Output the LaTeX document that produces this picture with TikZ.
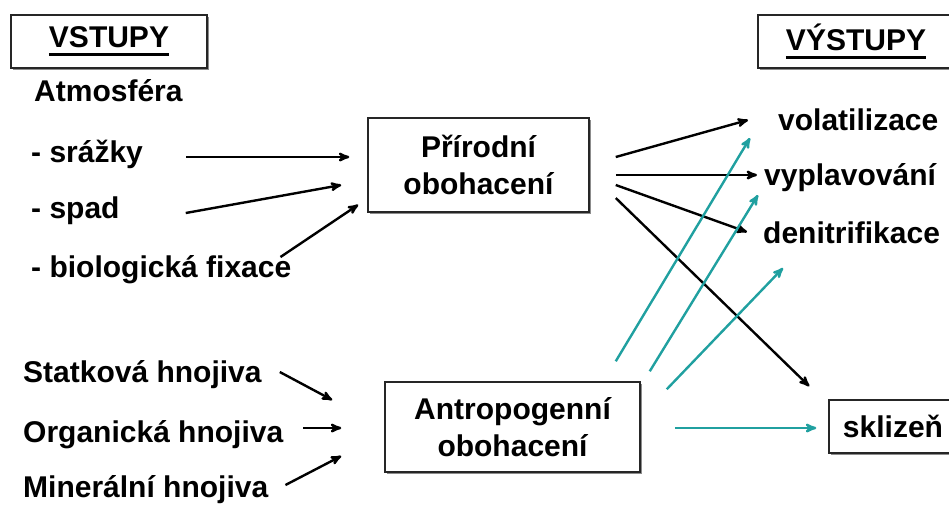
\documentclass[tikz,border=0pt]{standalone}
\usepackage{fontspec}
\setmainfont{Liberation Sans}
\usetikzlibrary{arrows,shadows}
\definecolor{tealarrow}{RGB}{32,160,160}
\newsavebox\headbox
\newcommand{\headline}[1]{\sbox\headbox{#1}\rlap{\usebox\headbox}\raisebox{-8.5pt}{\rule{\wd\headbox}{3.5pt}}}

\begin{document}
\begin{tikzpicture}
[->,>=stealth',x=1pt,y=-1pt,line width=2.4pt,
 every node/.style={font=\fontsize{30}{37}\selectfont\bfseries},
 lbl/.style={anchor=base west,inner sep=0pt},
 frame/.style={draw=black!85,line width=1.5pt,fill=white,align=center,
   drop shadow={shadow xshift=1.5pt,shadow yshift=-1.5pt,fill=black!45,opacity=1}},
 ant/.style={tealarrow}]
\path[use as bounding box] (0,0) rectangle (949,507);
\clip (0,0) rectangle (949,507);

\node[frame,minimum width=196pt,minimum height=53pt] (vstupy) at (109,41.5) {\headline{VSTUPY}};
\node[frame,minimum width=196pt,minimum height=53pt] (vystupy) at (856,41.5) {\headline{VÝSTUPY}};

\node[lbl] (atm) at (33,101) {Atmosféra};
\node[lbl] (srazky) at (30,162) {- srážky};
\node[lbl] (spad) at (30,218) {- spad};
\node[lbl] (fix) at (30,277) {- biologická fixace};
\node[lbl] (stat) at (22,382) {Statková hnojiva};
\node[lbl] (org) at (22,442) {Organická hnojiva};
\node[lbl] (miner) at (22,497) {Minerální hnojiva};

\node[frame,minimum width=221pt,minimum height=94pt] (prir) at (478.5,165) {Přírodní\\obohacení};
\node[frame,minimum width=255pt,minimum height=90pt] (antr) at (512.5,427) {Antropogenní\\obohacení};

\node[lbl] (volat) at (777,130) {volatilizace};
\node[lbl] (vypl) at (763,185) {vyplavování};
\node[lbl] (denit) at (762,243) {denitrifikace};
\node[frame,minimum width=128pt,minimum height=53pt] (sklizen) at (893,426.5) {sklizeň};

% vstupy -> prirodni
\draw ([xshift=42pt,yshift=5pt]srazky.base east) -- ([xshift=-18pt,yshift=8pt]prir.west);
\draw ([xshift=65pt,yshift=5pt]spad.base east) -- ([xshift=-26pt,yshift=-20pt]prir.west);
\draw ([xshift=-12pt,yshift=20pt]fix.base east) -- ([xshift=-9pt,yshift=8pt]prir.south west);
% prirodni -> vystupy
\draw ([xshift=26pt,yshift=8pt]prir.east) -- ([xshift=-29pt,yshift=10pt]volat.base west);
\draw ([xshift=26pt,yshift=-10pt]prir.east) -- ([xshift=-6pt,yshift=10pt]vypl.base west);
\draw ([xshift=26pt,yshift=-20pt]prir.east) -- ([xshift=-15pt,yshift=11pt]denit.base west);
\draw ([xshift=26pt,yshift=-33pt]prir.east) -- ([xshift=-19pt,yshift=13pt]sklizen.north west);
% hnojiva -> antropogenni
\draw ([xshift=17pt,yshift=10pt]stat.base east) -- ([xshift=-52pt,yshift=27pt]antr.west);
\draw ([xshift=19pt,yshift=14pt]org.base east) -- ([xshift=-43pt,yshift=-1pt]antr.west);
\draw ([xshift=16pt,yshift=12pt]miner.base east) -- ([xshift=-43pt,yshift=-29pt]antr.west);
% antropogenni -> vystupy
\draw[ant] ([xshift=-25pt,yshift=20pt]antr.north east) -- ([xshift=-27pt,yshift=-8pt]volat.base west);
\draw[ant] ([xshift=9pt,yshift=10pt]antr.north east) -- ([xshift=-5pt,yshift=-10pt]vypl.base west);
\draw[ant] ([xshift=26pt,yshift=-8pt]antr.north east) -- ([xshift=21pt,yshift=-25pt]denit.base west);
\draw[ant] ([xshift=34pt,yshift=-1pt]antr.east) -- ([xshift=-12pt,yshift=-1.5pt]sklizen.west);
\end{tikzpicture}
\end{document}
